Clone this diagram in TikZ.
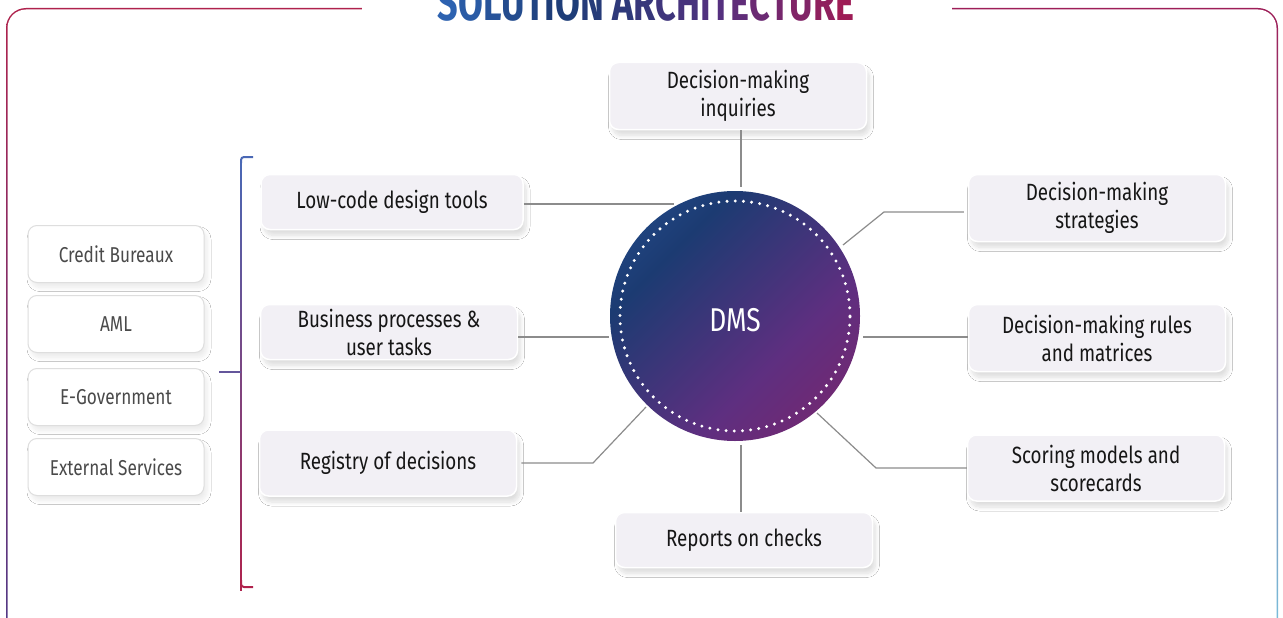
\documentclass[tikz,border=0pt]{standalone}
\usepackage{fontspec}
\setmainfont{Fira Sans}[FakeStretch=0.8]
\newfontfamily\titlefont{Fira Sans}[FakeStretch=0.72]
\usetikzlibrary{shadows.blur,calc}
\definecolor{boxfill}{HTML}{F2F0F5}
\definecolor{conncol}{HTML}{8C8C8C}
\definecolor{txtcol}{HTML}{161616}
\definecolor{lefttxt}{HTML}{4A4A4A}
\definecolor{tA}{HTML}{2D62B0}
\definecolor{tB}{HTML}{1E3D78}
\definecolor{tC}{HTML}{55307F}
\definecolor{tD}{HTML}{9E1C56}
\definecolor{gA}{HTML}{2B5EA6}
\definecolor{gB}{HTML}{1C3B72}
\definecolor{gC}{HTML}{5E2F80}
\definecolor{gD}{HTML}{8E1F5E}
\definecolor{brTop}{HTML}{4A68B5}
\definecolor{brBot}{HTML}{B0224C}
\pgfdeclarehorizontalshading{dmsgrad}{100bp}{color(0bp)=(gA); color(32bp)=(gB); color(62bp)=(gC); color(100bp)=(gD)}
\tikzset{
  mbox/.style={draw=white, line width=1.5pt, fill=boxfill, rounded corners=9pt,
    minimum width=257pt, align=center, inner sep=0pt, text=txtcol,
    font=\fontsize{23.5}{28}\selectfont,
    blur shadow={shadow xshift=3pt, shadow yshift=-6pt, shadow blur steps=10, shadow opacity=13, shadow blur radius=4pt}},
  lbox/.style={draw=black!13, line width=1pt, fill=white, rounded corners=9pt,
    minimum width=176pt, minimum height=57pt, inner sep=0pt, text=lefttxt,
    font=\fontsize{21.5}{24}\selectfont,
    blur shadow={shadow xshift=3pt, shadow yshift=-5pt, shadow blur steps=10, shadow opacity=8, shadow blur radius=4pt}},
  conn/.style={draw=conncol, line width=1.2pt},
  brline/.style={line width=2pt}
}
\begin{document}
\begin{tikzpicture}[x=1pt,y=-1pt]
\useasboundingbox (0,0) rectangle (1283,618);
% frame
\begin{scope}
\clip[rounded corners=20pt] (6,8) rectangle (1278,660);
\shade[top color=brBot, middle color=brBot!60!tC, bottom color=tC!80!tA] (0,0) rectangle (642,660);
\shade[top color=tD, middle color=tB, bottom color=tA!60!cyan!60!white] (642,0) rectangle (1290,660);
\end{scope}
\fill[white, rounded corners=18.5pt] (7.5,9.5) rectangle (1276.5,660);
\fill[white] (362,0) rectangle (952,12);
% title
\node[anchor=base, inner sep=0pt, font=\titlefont\bfseries\fontsize{50}{50}\selectfont] (title) at (646,21) {%
\textcolor{tA}{S}\textcolor{tA!80!tB}{O}\textcolor{tA!60!tB}{L}\textcolor{tA!40!tB}{U}\textcolor{tA!20!tB}{T}\textcolor{tB}{I}\textcolor{tB}{O}\textcolor{tB!85!tC}{N} \textcolor{tB!70!tC}{A}\textcolor{tB!55!tC}{R}\textcolor{tB!40!tC}{C}\textcolor{tB!25!tC}{H}\textcolor{tB!10!tC}{I}\textcolor{tC}{T}\textcolor{tC!85!tD}{E}\textcolor{tC!70!tD}{C}\textcolor{tC!55!tD}{T}\textcolor{tC!40!tD}{U}\textcolor{tC!20!tD}{R}\textcolor{tD}{E}};
% central circle
\node[circle, minimum size=250pt, inner sep=0pt, shading=dmsgrad, shading angle=-45] (dms) at (735,316) {};
\draw[white, line width=3.3pt, dash pattern=on 0pt off 8.2pt, line cap=round] (dms.center) circle[radius=115pt];
\node[text=white, font=\fontsize{33}{33}\selectfont] (dmstext) at (735,320) {DMS};
% right-side boxes
\node[mbox, minimum height=67pt] (inq) at (738,96) {Decision-making\\inquiries};
\node[mbox, minimum height=55pt, minimum width=262pt] (low) at (392,202) {Low-code design tools};
\node[mbox, minimum height=55pt] (bus) at (389,332) {Business processes \&\\user tasks};
\node[mbox, minimum height=66pt] (reg) at (388,463) {Registry of decisions};
\node[mbox, minimum height=55pt] (rep) at (744,540) {Reports on checks};
\node[mbox, minimum height=67pt] (str) at (1097,208) {Decision-making\\strategies};
\node[mbox, minimum height=67pt] (rul) at (1097,338) {Decision-making rules\\and matrices};
\node[mbox, minimum height=66pt] (sco) at (1096,468) {Scoring models and\\scorecards};
% left boxes
\node[lbox] (cb) at (116,254) {Credit Bureaux};
\node[lbox] (aml) at (116,324) {AML};
\node[lbox] (egov) at (116,397) {E-Government};
\node[lbox] (ext) at (116,467) {External Services};
% connector end points near circle
\coordinate (pInq) at (741,187);
\coordinate (pRep) at (741,445);
\coordinate (pLow) at (674,204);
\coordinate (pBus) at (609,337);
\coordinate (pReg) at (646,407);
\coordinate (pStr) at (843,245);
\coordinate (pRul) at (863,337);
\coordinate (pSco) at (817,413);
% connectors
\draw[conn] (inq.south -| pInq) -- (pInq);
\draw[conn] (pRep) -- (rep.north -| pRep);
\draw[conn] (low.east |- pLow) -- (pLow);
\draw[conn] (bus.east |- pBus) -- (pBus);
\draw[conn] (reg.east) ++(4,0) -- (593,463) -- (pReg);
\draw[conn] (str.west |- 0,212) ++(-4,0) -- (884,212) -- (pStr);
\draw[conn] (pRul) -- (rul.west |- pRul);
\draw[conn] (pSco) -- (876,468) -- (sco.west |- 0,468);
% bracket
\foreach \i in {0,...,42}{
  \pgfmathsetmacro{\pct}{100-\i*100/43}
  \draw[brline, draw=brTop!\pct!brBot] (241,{160+\i*10}) -- (241,{160+(\i+1)*10+0.6});
}
\draw[brline, draw=brTop, rounded corners=3pt] (253,157) -- (241,157) -- (241,163);
\draw[brline, draw=brBot, rounded corners=3pt] (241,580) -- (241,587) -- (253,587);
\coordinate (brMid) at (241,372);
\draw[brline, draw=brTop!75!brBot] (brMid) -- (219,372);
\end{tikzpicture}
\end{document}
